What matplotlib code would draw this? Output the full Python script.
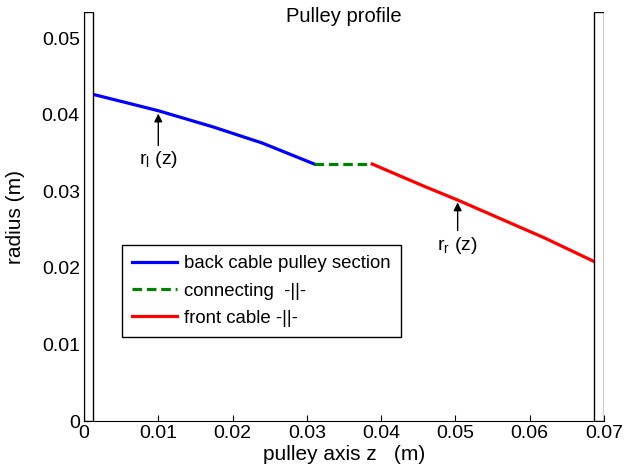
import numpy as np
import matplotlib
matplotlib.use("Agg")
import matplotlib.pyplot as plt
from matplotlib.patches import Rectangle

plt.rcParams['font.family'] = ['Liberation Sans', 'DejaVu Sans']
plt.rcParams['mathtext.default'] = 'regular'

# back cable section r_l(z)
z_back = [0.0, 0.0012, 0.0062, 0.0100, 0.0173, 0.0240, 0.0310]
r_back = [0.0429, 0.04265, 0.04144, 0.04051, 0.03842, 0.03629, 0.03355]
# connecting section
z_conn = [0.0310, 0.0388]
r_conn = [0.03355, 0.03355]
# front cable section r_r(z)
z_front = [0.0388, 0.0459, 0.0503, 0.0620, 0.0685, 0.0700]
r_front = [0.03355, 0.0306, 0.02885, 0.0239, 0.0209, 0.0203]

# flanges (z start, width)
flanges = [(0.0, 0.0012), (0.0687, 0.0013)]
flange_height = 0.0534

fig = plt.figure(figsize=(6.35, 4.71), dpi=100)
ax = fig.add_axes([84/635, 50/471, 520/635, 409/471])

ax.plot(z_back, r_back, color='blue', lw=2.3, label='back cable pulley section')
ax.plot(z_conn, r_conn, color='green', lw=2.3, ls=(0, (3, 1.5)), label='connecting  -||-')
ax.plot(z_front, r_front, color='red', lw=2.3, label='front cable -||-')

for z0, w in flanges:
    ax.add_patch(Rectangle((z0, 0), w, flange_height, facecolor='white',
                           edgecolor='black', linewidth=1, zorder=3))

# annotations
ax.annotate('', xy=(0.0100, 0.0405), xytext=(0.0100, 0.0356),
            arrowprops=dict(arrowstyle='-|>', color='black', lw=1, mutation_scale=12))
ax.text(0.0100, 0.0341, 'r$_{l}$ (z)', ha='center', va='center', fontsize=14)
ax.annotate('', xy=(0.0503, 0.0289), xytext=(0.0503, 0.0245),
            arrowprops=dict(arrowstyle='-|>', color='black', lw=1, mutation_scale=12))
ax.text(0.0503, 0.0229, 'r$_{r}$ (z)', ha='center', va='center', fontsize=14)

ax.set_xlim(0, 0.07)
ax.set_ylim(0, flange_height)
ax.set_xticks(np.arange(0, 0.0701, 0.01))
ax.set_xticklabels(['0', '0.01', '0.02', '0.03', '0.04', '0.05', '0.06', '0.07'])
ax.set_yticks(np.arange(0, 0.0501, 0.01))
ax.set_yticklabels(['0', '0.01', '0.02', '0.03', '0.04', '0.05'])
ax.tick_params(direction='in', length=4, width=0.8, labelsize=14, pad=3)
ax.spines['top'].set_visible(False)
ax.spines['right'].set_visible(False)

ax.set_xlabel('pulley axis z   (m)', fontsize=15, labelpad=2)
ax.set_ylabel('radius (m)', fontsize=15, labelpad=12)
fig.text((84 + 604) / 2 / 635, 1 - 16/471, 'Pulley profile', ha='center', va='center', fontsize=14.5)

leg = ax.legend(loc='upper left', bbox_to_anchor=(0.073, 0.43), borderaxespad=0,
                fancybox=False, edgecolor='black', framealpha=1, handlelength=2.4,
                handletextpad=0.4, labelspacing=0.55, borderpad=0.55, fontsize=13.4)
leg.get_frame().set_linewidth(1)

fig.savefig('out.png', dpi=100)
